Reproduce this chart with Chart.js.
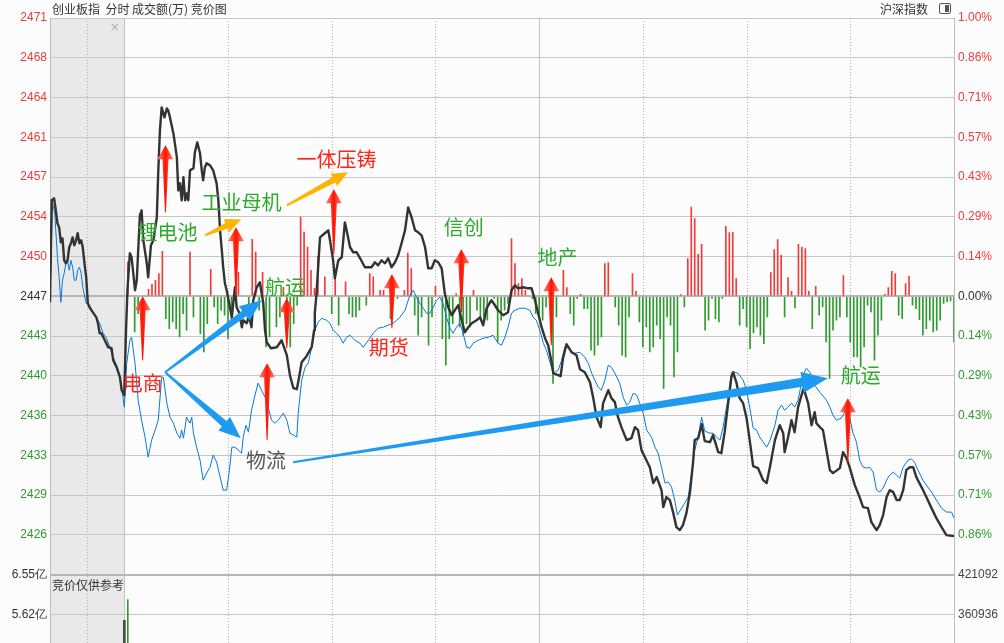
<!DOCTYPE html>
<html>
<head>
<meta charset="utf-8">
<script src="https://cdn.jsdelivr.net/npm/chart.js@4/dist/chart.umd.min.js"></script>
<style>
html, body { margin: 0; padding: 0; background: #fcfcfc; overflow: hidden; }
#wrap { position: relative; width: 1004px; height: 643px; overflow: hidden; }
#c { position: absolute; left: 0; top: 0; }
.hd { position: absolute; top: 1px; font: 12px "Noto Sans CJK SC", sans-serif; color: #333; line-height: 16px; white-space: pre; }
#icon { position: absolute; left: 939px; top: 3px; width: 10px; height: 9px; border: 1px solid #555; border-radius: 2px; }
#icon div { position: absolute; right: 1px; top: 1px; width: 4px; height: 7px; background: #555; }
</style>
</head>
<body>
<div id="wrap">
  <canvas id="c" width="1004" height="864"></canvas>
  <div class="hd" style="left:52px">创业板指  分时 成交额(万) 竞价图</div>
  <div class="hd" style="left:880px">沪深指数</div>
  <div id="icon"><div></div></div>
</div>
<script>
// ---- data ----
const prevClose = 2446.95;
const priceLabels = ['2471','2468','2464','2461','2457','2454','2450','2447','2443','2440','2436','2433','2429','2426',''];
const pctLabels = ['1.00%','0.86%','0.71%','0.57%','0.43%','0.29%','0.14%','0.00%','0.14%','0.29%','0.43%','0.57%','0.71%','0.86%',''];
const volMax = 6.55;
const volLeftLabels = ['6.55亿','5.62亿'];
const volRightLabels = ['421092','360936'];

// 9:15-9:25 call auction, minutes from 9:15
const auctionMin = [0,0.23,0.55,0.78,1.0,1.23,1.46,1.68,1.91,2.14,
  2.36,2.59,2.82,3.04,3.27,3.51,3.72,3.96,4.19,4.41,
  4.64,4.87,5.09,5.32,5.77,6.23,6.45,6.68,6.91,7.37,
  7.82,8.28,8.50,8.96,9.41,9.64,10];
const auctionPrice = [2446.42,2455.39,2455.56,2454.51,2453.37,2453.01,2451.70,2452.05,2450.11,2449.85,
  2450.11,2451.26,2451.61,2452.13,2451.43,2451.87,2452.49,2451.61,2451.87,2451.26,
  2449.85,2448.62,2446.33,2445.98,2445.54,2445.10,2444.58,2443.70,2443.70,2443.08,
  2442.47,2442.38,2441.33,2440.71,2439.83,2438.69,2438.25];
const auctionIdxMin = [0,0.31,0.64,1.0,1.23,1.46,1.68,1.91,2.14,2.36,
  2.59,2.82,3.04,3.27,3.51,3.72,3.96,4.19,4.41,4.87,
  5.32,5.77,6.23,6.68,7.14,7.60,8.05,8.50,8.96,9.41,9.64,10];
const auctionIdx = [2446.60,2455.21,2454.24,2450.38,2448.62,2446.42,2448.36,2448.97,2449.85,2450.11,
  2449.24,2450.11,2449.50,2448.36,2448.36,2449.24,2449.50,2448.97,2447.74,2446.33,
  2446.16,2445.54,2445.10,2444.58,2443.70,2443.26,2442.47,2441.59,2440.89,2439.83,2438.95,2437.20];

// trading session, minutes after 9:30 (0-240)
const priceMin = [0,0.5,0.9,1.6,2.1,3.1,3.6,4.5,5.0,5.5,
  6.5,6.9,7.7,8.4,9.4,9.8,10.3,10.8,11.6,12.3,
  12.7,13.2,14.2,15.2,15.6,16.1,16.6,17.1,17.6,18.0,
  18.5,19.0,20.0,20.4,21.1,21.9,22.4,22.8,23.3,23.8,
  24.8,25.7,26.7,27.2,27.7,28.2,28.6,29.1,29.6,31.1,
  31.5,32.0,32.5,33.3,34.0,34.4,35.4,35.9,36.3,36.8,
  37.3,38.3,39.2,40.2,40.7,41.2,42.4,44.1,45.5,46.0,
  47.0,47.9,48.9,49.9,50.5,51.3,52.7,54.2,54.9,55.1,
  55.6,56.6,58.0,59.0,59.5,60.4,60.9,61.9,62.9,63.8,
  64.3,65.3,66.2,67.2,68.2,69.6,71.5,72.5,73.4,74.4,
  75.4,76.3,77.3,78.3,79.2,80.2,81.2,82.1,83.1,84.1,
  85.0,86.0,87.0,87.9,88.9,89.8,90.8,91.8,92.7,93.7,
  94.7,95.6,96.6,97.6,98.5,99.5,100.5,101.9,102.9,103.8,
  104.8,106.2,107.2,108.1,109.6,111.0,112.0,113.0,113.9,115.4,
  116.8,117.8,118.8,119.7,120.7,121.7,122.6,123.6,124.1,125.5,
  126.2,126.9,127.9,129.4,130.8,131.8,133.2,134.7,135.6,136.6,
  137.8,138.5,140.0,140.9,141.9,142.8,143.8,145.3,146.7,147.7,
  148.6,149.6,150.6,152.0,153.0,154.0,155.4,155.9,156.8,157.8,
  158.8,159.7,160.7,161.6,162.6,163.6,164.5,165.0,166.0,167.0,
  167.9,169.4,170.3,171.8,172.7,173.7,174.7,175.6,176.1,177.1,
  178.0,179.0,180.0,180.9,181.9,183.3,184.8,185.8,186.7,188.2,
  189.6,190.6,191.0,192.0,193.0,193.9,194.9,195.9,196.5,197.8,
  198.8,199.7,200.2,201.2,202.1,203.1,204.1,205.0,207.0,207.9,
  208.9,209.8,211.3,212.7,213.7,215.1,216.1,217.6,218.5,219.5,
  220.5,221.4,222.4,223.4,224.3,225.3,226.2,227.2,228.2,229.1,
  230.6,232.0,233.5,234.9,236.4,237.8,240];
const priceVal = [2438.51,2443.96,2447.48,2450.73,2450.38,2447.48,2448.36,2454.07,2454.51,2451.87,
  2449.85,2448.62,2451.43,2451.87,2453.89,2457.76,2461.54,2463.56,2462.68,2463.47,
  2463.29,2462.68,2461.27,2459.16,2456.26,2456.88,2455.39,2457.41,2455.39,2456.00,
  2455.39,2458.02,2458.20,2459.60,2460.48,2459.52,2458.02,2457.14,2458.29,2458.64,
  2458.46,2458.02,2456.88,2455.39,2452.75,2450.99,2449.50,2448.09,2447.48,2445.10,
  2446.33,2447.74,2445.98,2445.46,2444.23,2444.84,2444.58,2445.10,2444.84,2444.23,
  2446.60,2447.74,2448.18,2446.33,2443.96,2442.91,2442.38,2442.47,2443.08,2442.64,
  2441.77,2440.01,2438.87,2438.78,2439.74,2441.15,2441.68,2442.47,2443.96,2445.46,
  2447.21,2452.13,2452.49,2452.75,2451.87,2450.11,2448.53,2450.11,2450.38,2453.45,
  2452.75,2451.26,2450.82,2450.82,2450.29,2449.50,2449.50,2449.94,2449.67,2450.11,
  2449.85,2450.29,2449.50,2449.94,2450.55,2451.61,2452.75,2454.77,2453.89,2452.75,
  2452.57,2452.31,2451.26,2449.41,2449.41,2450.11,2449.94,2449.41,2447.21,2445.98,
  2445.28,2445.72,2446.16,2444.84,2443.79,2444.23,2444.58,2444.84,2445.10,2444.40,
  2445.90,2446.60,2446.16,2445.72,2445.28,2445.54,2447.48,2447.92,2447.65,2447.74,
  2447.65,2447.65,2446.60,2445.46,2444.23,2443.26,2442.64,2441.15,2440.18,2440.01,
  2439.92,2441.50,2442.73,2442.03,2441.77,2440.54,2440.27,2439.39,2438.08,2436.32,
  2435.44,2437.55,2438.69,2437.99,2437.64,2436.32,2435.44,2434.30,2434.47,2435.44,
  2435.18,2433.42,2432.80,2431.92,2430.52,2431.05,2429.90,2428.41,2429.29,2429.03,
  2427.88,2426.65,2426.39,2426.83,2427.88,2429.64,2432.28,2434.30,2434.47,2435.70,
  2434.21,2434.12,2434.74,2433.24,2433.15,2435.09,2437.64,2439.83,2440.27,2439.31,
  2437.99,2437.55,2436.23,2434.30,2432.01,2431.84,2430.78,2430.52,2431.84,2434.30,
  2435.61,2434.91,2433.24,2434.56,2436.05,2435.00,2437.20,2438.25,2438.87,2437.55,
  2435.61,2436.76,2435.79,2435.44,2435.18,2433.42,2431.66,2431.40,2431.84,2433.24,
  2432.71,2431.92,2430.34,2429.29,2428.41,2428.32,2427.09,2426.39,2426.83,2427.71,
  2429.29,2429.90,2429.73,2429.03,2429.03,2429.90,2431.66,2431.92,2431.92,2431.05,
  2430.17,2429.29,2428.32,2427.44,2426.65,2425.95,2425.86];

// 沪深指数 overlay, scaled onto the same axis
const indexMin = [0,0.7,1.6,2.1,3.1,4.0,5.0,6.0,6.9,7.9,
  8.9,9.8,10.8,11.3,12.3,13.2,14.2,15.2,16.1,16.6,
  17.1,18.0,19.0,19.5,20.0,20.9,21.9,22.8,23.8,24.8,
  25.7,26.7,27.7,28.6,29.6,30.4,31.1,32.0,33.0,33.9,
  34.4,35.2,35.9,36.8,37.8,38.7,39.7,40.7,41.6,42.6,
  43.6,44.5,46.0,47.0,47.9,48.9,49.9,50.3,51.3,52.3,
  53.2,54.2,55.1,56.1,57.1,58.5,59.5,60.4,61.4,62.4,
  63.3,64.3,65.3,66.7,68.2,69.1,70.6,72.0,73.4,74.9,
  76.3,77.8,78.8,79.7,81.2,82.6,83.6,84.5,85.5,86.5,
  87.4,88.4,89.4,90.3,91.3,92.2,93.2,94.2,95.1,96.1,
  97.1,98.0,99.0,100.0,100.9,102.4,103.8,105.3,106.7,108.1,
  109.1,110.1,111.0,112.0,113.0,114.4,115.9,117.3,118.3,119.2,
  120.2,121.2,122.1,123.1,124.1,125.5,126.5,127.4,128.4,129.4,
  130.3,131.8,133.2,134.2,135.2,136.1,137.1,138.0,139.0,140.0,
  140.9,141.9,143.3,144.3,145.3,146.2,147.2,148.2,149.1,150.1,
  151.1,152.5,153.5,154.4,155.4,156.4,157.3,158.3,159.2,160.0,
  161.2,162.1,163.1,164.1,165.0,166.0,167.0,167.9,169.4,170.3,
  171.3,172.3,173.2,174.2,174.7,175.6,176.6,177.5,179.0,180.0,
  180.9,181.9,182.9,183.8,184.8,185.8,186.7,188.2,189.1,190.1,
  191.0,192.0,193.0,193.9,194.9,196.3,197.3,198.3,199.7,201.2,
  203.1,204.1,205.0,206.0,207.4,208.4,209.8,210.8,211.8,212.7,
  213.7,214.7,215.6,216.6,217.6,218.5,219.5,220.5,221.4,222.4,
  223.4,224.3,225.3,226.7,227.7,228.6,229.6,231.0,232.0,233.5,
  234.9,236.4,237.8,239.3,240];
const indexVal = [2437.20,2441.06,2443.08,2443.35,2441.06,2437.81,2436.05,2434.56,2432.80,2434.30,
  2435.18,2436.05,2439.83,2439.83,2437.55,2436.32,2435.79,2434.91,2434.47,2435.18,
  2434.47,2436.32,2435.79,2436.32,2434.91,2433.68,2432.54,2430.78,2431.40,2431.92,
  2432.98,2432.36,2431.05,2429.90,2429.90,2431.66,2433.68,2433.68,2433.42,2433.15,
  2434.56,2435.61,2435.00,2436.93,2438.25,2439.31,2438.69,2438.08,2437.20,2436.05,
  2435.79,2436.05,2436.67,2436.05,2434.91,2434.74,2434.56,2436.67,2439.57,2440.71,
  2441.06,2442.47,2443.96,2444.67,2445.02,2444.84,2444.58,2443.96,2443.70,2443.35,
  2442.82,2443.35,2443.52,2443.08,2442.82,2442.47,2443.08,2443.70,2444.14,2444.23,
  2444.40,2444.58,2444.84,2445.10,2445.72,2447.04,2447.48,2446.86,2446.33,2445.90,
  2445.46,2445.46,2445.98,2446.60,2446.86,2446.33,2445.10,2444.14,2443.70,2444.23,
  2444.58,2443.70,2442.47,2442.38,2442.82,2443.08,2443.26,2443.35,2443.52,2442.82,
  2442.64,2443.35,2444.23,2445.46,2445.72,2445.90,2445.90,2445.72,2445.10,2444.84,
  2443.96,2442.82,2442.21,2441.15,2440.18,2440.45,2441.33,2442.47,2442.47,2441.94,
  2441.94,2442.03,2441.59,2441.06,2440.18,2439.57,2438.95,2438.69,2439.57,2440.89,
  2440.71,2440.18,2439.31,2438.08,2437.37,2437.64,2438.43,2438.25,2437.55,2436.67,
  2435.18,2434.56,2433.68,2433.15,2431.92,2430.52,2430.61,2430.17,2429.03,2427.71,
  2428.32,2428.76,2429.29,2431.40,2433.42,2434.56,2436.32,2435.09,2434.91,2434.91,
  2434.56,2434.30,2435.44,2437.20,2438.08,2440.18,2440.27,2440.18,2439.57,2438.69,
  2437.20,2435.35,2435.18,2434.56,2434.12,2433.68,2434.21,2435.61,2436.93,2437.37,
  2436.93,2437.20,2437.55,2437.20,2437.81,2440.01,2440.62,2440.27,2439.13,2438.51,
  2437.81,2437.20,2436.49,2436.05,2436.23,2436.76,2436.32,2434.91,2434.12,2432.54,
  2431.92,2431.84,2431.92,2431.49,2429.90,2429.73,2430.08,2430.78,2431.22,2431.49,
  2431.22,2430.96,2431.92,2432.54,2432.63,2432.36,2431.66,2430.78,2430.34,2429.73,
  2429.03,2428.32,2427.97,2427.97,2427.44];

// red / green bars drawn from the previous close (index points)
const flowMin = [1,3,4,7,8,9,10,11,12,13, 14,15,16,17,18,19,20,22,23,24,
  25,26,27,28,29,30,31,33,36,37, 38,39,40,41,42,44,45,46,47,48,
  49,50,51,52,53,54,55,56,58,60, 61,62,64,65,66,67,68,70,71,72,
  74,75,77,78,79,81,82,83,84,85, 86,88,89,90,92,93,94,95,96,97,
  98,99,100,101,102,103,104,105,107,108, 109,110,111,112,113,114,115,116,118,119,
  120,121,122,124,125,127,128,129,130,131, 132,133,134,135,136,137,138,139,140,142,
  143,144,145,146,147,148,149,150,151,152, 153,154,155,156,157,158,159,160,161,162,
  163,164,165,166,167,168,169,170,171,172, 173,174,175,176,177,178,179,180,181,182,
  183,184,185,186,187,188,189,190,191,192, 193,194,195,196,197,198,199,200,201,202,
  203,204,205,206,207,208,209,210,211,212, 213,214,215,216,217,218,219,220,221,222,
  223,224,225,226,227,228,229,230,231,232, 233,234,235,236,237,238,239,240];
const flowVal = [3.01,-3.14,-1.52,0.62,1.05,1.41,1.99,3.95,-1.96,-2.84, -2.26,-2.84,-3.58,-1.52,-2.99,3.89,-1.82,-3.28,-4.89,-2.40,
  2.37,-0.94,-2.40,-1.23,-1.67,-3.72,-2.11,2.11,-0.79,5.01, 3.89,-1.23,2.11,-4.45,-3.58,-2.70,-1.82,0.79,-3.14,-4.45,
  -2.40,-0.79,6.97,5.65,4.33,2.28,0.70,3.51,1.70,-1.52, 2.28,-2.55,1.26,-1.52,-1.82,-1.82,-1.23,-0.79,1.99,1.70,
  0.53,0.53,-1.96,0.82,-0.20,0.53,3.80,2.43,-1.67,-3.43, -1.82,-4.31,-1.82,0.88,-3.72,-6.06,-3.72,-2.40,0.24,-2.70,
  -3.43,-2.40,-2.70,0.53,-1.23,-1.96,-1.82,-2.11,-0.20,-4.02, -2.11,-1.23,-0.64,5.07,2.87,1.12,1.56,0.53,-0.20,-1.52,
  -1.52,-2.11,-0.94,-7.67,-1.82,2.28,0.76,-1.52,-2.55,-0.20, 0.18,-1.08,-1.08,-4.74,-5.18,-4.31,-3.58,2.87,2.96,-0.94,
  -2.55,-5.18,-5.33,-1.82,1.99,0.44,-2.26,-4.45,-2.70,-4.89, -4.45,-2.55,-3.72,-8.11,-1.82,-2.55,-7.09,-4.89,0.15,-0.94,
  3.31,7.85,6.83,3.69,4.57,-2.99,-2.11,-0.20,-1.96,-2.26, -0.20,6.15,5.60,5.62,1.56,-2.55,-1.08,-2.70,-4.60,-3.22,
  -2.70,-3.43,-4.16,-1.82,2.08,4.10,4.98,3.60,-1.82,1.64, 0.44,-1.03,4.57,4.33,4.19,0.44,-2.84,0.88,-1.67,-0.94,
  -4.02,-7.23,-2.99,-2.11,-1.82,1.82,-1.82,-4.02,-5.33,-5.33, -6.21,-4.45,-0.79,-1.38,-5.62,-3.43,-2.11,0.18,0.76,2.20,
  1.99,-1.67,-1.96,1.12,1.76,-0.79,-1.08,-2.05,-3.43,-2.84, -2.11,-3.14,-2.99,-2.11,-0.64,-0.50,-0.41,-4.02];

// volume pane (亿): auction match and first minute
const volAuction = 5.47;
const volFirst = 5.96;

// hand-drawn notes on the picture (minute, index level)
const upArrowMin  = [5.3, 11.9, 32.3, 47.0, 41.3, 60.6, 77.4, 97.5, 123.5, 209.3];
const upArrowTip  = [2446.95, 2460.22, 2453.01, 2446.77, 2441.06, 2456.35, 2448.88, 2451.08, 2448.62, 2437.99];
const upArrowTail = [2441.33, 2454.33, 2446.95, 2442.38, 2434.30, 2450.64, 2444.14, 2445.54, 2442.64, 2432.36];

const noteText = ['电商','锂电池','工业母机','一体压铸','航运','期货','信创','地产','物流','航运'];
const noteMin  = [5.3, 12.5, 33.9, 61.4, 46.5, 76.5, 98.2, 125.3, 41.0, 213.0];
const noteLvl  = [2439.31, 2452.60, 2455.24, 2458.99, 2447.74, 2442.42, 2452.97, 2450.38, 2432.54, 2440.01];
const noteKind = ['red','green','green','red','green','red','green','green','gray','green'];

const linkFromMin = [11.8, 11.8, 48.8, 23.3, 47.0];
const linkFromLvl = [2440.27, 2440.27, 2432.36, 2452.31, 2454.95];
const linkToMin   = [39.8, 33.7, 203.5, 33.8, 64.7];
const linkToLvl   = [2446.60, 2434.47, 2439.74, 2453.72, 2457.85];
const linkKind    = ['blue','blue','blueLong','gold','gold'];

// ---- layout / style ----
const xMin = -21.5;             // auction block occupies [xMin, 0]
const toX = m => xMin + m * (-xMin / 10);
const RED = '#ee3b3b', GREEN = '#2f9a2f', DARK = '#333333';
const noteColors = { red: '#ff2418', green: '#2daa2d', gray: '#555555' };
const linkStyle = {
  blue:     { w0: 2, w1: 7,  hw: 18, hl: 22, color: '#1e9bf0' },
  blueLong: { w0: 2, w1: 9,  hw: 21, hl: 26, color: '#1e9bf0' },
  gold:     { w0: 2, w1: 6,  hw: 14, hl: 16, color: '#ffb400' }
};

const priceTicks = [];
for (let k = -7; k <= 7; k++) priceTicks.push(prevClose * (1 + k / 700));
const stepOf = v => Math.round((v / prevClose - 1) * 700);
const volTicks = [];
for (let j = 0; j <= 7; j++) volTicks.push(volMax * j / 7);
const volStep = v => Math.round(v / volMax * 7);
const lvlColor = v => { const k = stepOf(v); return k > 0 ? RED : (k < 0 ? GREEN : DARK); };

const blackData = auctionMin.map((m, i) => ({ x: toX(m), y: auctionPrice[i] }))
  .concat(priceMin.map((t, i) => ({ x: t, y: priceVal[i] })));
const blueData = auctionIdxMin.map((m, i) => ({ x: toX(m), y: auctionIdx[i] }))
  .concat(indexMin.map((t, i) => ({ x: t, y: indexVal[i] })));
const flowData = flowMin.map((t, i) => ({ x: t, y: prevClose + flowVal[i] }));

function taper(ctx, x0, y0, x1, y1, s, fill) {
  const len = Math.hypot(x1 - x0, y1 - y0);
  const ux = (x1 - x0) / len, uy = (y1 - y0) / len, nx = -uy, ny = ux;
  const bx = x1 - ux * s.hl, by = y1 - uy * s.hl;
  ctx.beginPath();
  ctx.moveTo(x0 + nx * s.w0 / 2, y0 + ny * s.w0 / 2);
  ctx.lineTo(bx + nx * s.w1 / 2, by + ny * s.w1 / 2);
  ctx.lineTo(bx + nx * s.hw / 2, by + ny * s.hw / 2);
  ctx.lineTo(x1, y1);
  ctx.lineTo(bx - nx * s.hw / 2, by - ny * s.hw / 2);
  ctx.lineTo(bx - nx * s.w1 / 2, by - ny * s.w1 / 2);
  ctx.lineTo(x0 - nx * s.w0 / 2, y0 - ny * s.w0 / 2);
  ctx.closePath();
  ctx.fillStyle = fill;
  ctx.fill();
}

const decor = {
  id: 'decor',
  beforeDraw(chart) {
    const { ctx, chartArea: a, scales: { x } } = chart;
    ctx.save();
    ctx.fillStyle = '#e9e9e9';
    ctx.fillRect(a.left, a.top, x.getPixelForValue(0) - a.left, a.bottom - a.top);
    const vlines = [xMin / 2, 0, 30, 60, 90, 120, 150, 180, 210];
    vlines.forEach(v => {
      const px = Math.round(x.getPixelForValue(v)) + 0.5;
      const solid = v === 0 || v === 120;
      ctx.beginPath();
      ctx.strokeStyle = solid ? '#c2c2c2' : '#b4b4b4';
      ctx.lineWidth = 1;
      ctx.setLineDash(solid ? [] : [1, 2]);
      ctx.moveTo(px, a.top);
      ctx.lineTo(px, a.bottom);
      ctx.stroke();
    });
    ctx.restore();
  },
  afterDatasetsDraw(chart) {
    const { ctx, chartArea: a, scales: { x, y, yv } } = chart;
    ctx.save();
    // up arrows
    upArrowMin.forEach((t, i) => {
      const px = x.getPixelForValue(t);
      const g = ctx.createLinearGradient(px - 8, 0, px + 8, 0);
      g.addColorStop(0, '#ff8a7a'); g.addColorStop(0.5, '#ff1200'); g.addColorStop(1, '#ff8a7a');
      taper(ctx, px, y.getPixelForValue(upArrowTail[i]), px, y.getPixelForValue(upArrowTip[i]),
        { w0: 1, w1: 6, hw: 16, hl: 14 }, g);
    });
    // link arrows
    linkFromMin.forEach((t, i) => {
      const s = linkStyle[linkKind[i]];
      taper(ctx, x.getPixelForValue(t), y.getPixelForValue(linkFromLvl[i]),
        x.getPixelForValue(linkToMin[i]), y.getPixelForValue(linkToLvl[i]), s, s.color);
    });
    // notes
    ctx.font = '20px "Noto Sans CJK SC", sans-serif';
    ctx.textAlign = 'center';
    ctx.textBaseline = 'middle';
    noteText.forEach((s, i) => {
      ctx.fillStyle = noteColors[noteKind[i]];
      ctx.fillText(s, x.getPixelForValue(noteMin[i]), y.getPixelForValue(noteLvl[i]));
    });
    // small pane texts
    ctx.font = '12px "Noto Sans CJK SC", sans-serif';
    ctx.textAlign = 'left';
    ctx.fillStyle = '#333';
    ctx.fillText('竞价仅供参考', a.left + 2, yv.getPixelForValue(volMax) + 11);
    ctx.font = '12px "DejaVu Sans", sans-serif';
    ctx.textAlign = 'center';
    ctx.fillStyle = '#aaa';
    ctx.fillText('×', x.getPixelForValue(0) - 9.5, a.top + 10);
    ctx.restore();
  }
};

const tickFont = { family: '"Liberation Sans", Arial, sans-serif', size: 12 };
const fixW = s => { s.width = 50; };

new Chart(document.getElementById('c'), {
  type: 'line',
  data: {
    datasets: [
      { type: 'line', data: blackData, borderColor: '#333333', borderWidth: 2.4, pointRadius: 0,
        tension: 0, borderJoinStyle: 'round', yAxisID: 'y', order: 0 },
      { type: 'line', data: blueData, borderColor: '#0a78d6', borderWidth: 1, pointRadius: 0,
        tension: 0, yAxisID: 'y', order: 1 },
      { type: 'bar', data: flowData, base: prevClose, barThickness: 1, grouped: false, yAxisID: 'y', order: 2,
        backgroundColor: c => (c.raw && c.raw.y >= prevClose ? '#f03c3c' : '#2f9a2f') },
      { type: 'bar', data: [{ x: 0, y: volAuction }], barThickness: 2, grouped: false, yAxisID: 'yv',
        backgroundColor: '#4a4a4a', order: 3 },
      { type: 'bar', data: [{ x: 1, y: volFirst }], barThickness: 1, grouped: false, yAxisID: 'yv',
        backgroundColor: '#2f9a2f', order: 3 }
    ]
  },
  options: {
    responsive: false,
    animation: false,
    devicePixelRatio: 1,
    layout: { padding: { top: 18, bottom: 10, left: 0, right: 0 } },
    plugins: { legend: { display: false }, tooltip: { enabled: false } },
    scales: {
      x: { type: 'linear', min: xMin, max: 240, offset: false, display: false },
      y: {
        type: 'linear', position: 'left', stack: 'L', stackWeight: 2, weight: 2,
        min: prevClose * 0.99, max: prevClose * 1.01,
        afterBuildTicks: s => { s.ticks = priceTicks.map(v => ({ value: v })); },
        afterFit: fixW,
        grid: {
          drawTicks: false,
          color: c => (stepOf(c.tick.value) === 0 || stepOf(c.tick.value) === -7 ? '#b6b6b6' : '#c6c6c6'),
          lineWidth: c => (stepOf(c.tick.value) === 0 || stepOf(c.tick.value) === -7 ? 2 : 1)
        },
        border: { display: true, color: '#bdbdbd' },
        ticks: { autoSkip: false, padding: 3, font: tickFont,
          color: c => lvlColor(c.tick.value),
          callback: v => priceLabels[7 - stepOf(v)] }
      },
      yv: {
        type: 'linear', position: 'left', stack: 'L', stackWeight: 1, weight: 1,
        min: 0, max: volMax,
        afterBuildTicks: s => { s.ticks = volTicks.map(v => ({ value: v })); },
        afterFit: fixW,
        grid: { drawTicks: false, color: c => (volStep(c.tick.value) === 7 ? '#b6b6b6' : '#c6c6c6'),
          lineWidth: c => (volStep(c.tick.value) === 7 ? 2 : 1) },
        border: { display: true, color: '#bdbdbd' },
        ticks: { autoSkip: false, padding: 3, font: tickFont, color: '#333',
          callback: v => volLeftLabels[7 - volStep(v)] || '' }
      },
      yr: {
        type: 'linear', position: 'right', stack: 'R', stackWeight: 2, weight: 1,
        min: prevClose * 0.99, max: prevClose * 1.01,
        afterBuildTicks: s => { s.ticks = priceTicks.map(v => ({ value: v })); },
        afterFit: fixW,
        grid: { display: false, drawTicks: false },
        border: { display: true, color: '#bdbdbd' },
        ticks: { autoSkip: false, padding: 4, font: tickFont,
          color: c => lvlColor(c.tick.value),
          callback: v => pctLabels[7 - stepOf(v)] }
      },
      yvr: {
        type: 'linear', position: 'right', stack: 'R', stackWeight: 1, weight: 2,
        min: 0, max: volMax,
        afterBuildTicks: s => { s.ticks = volTicks.map(v => ({ value: v })); },
        afterFit: fixW,
        grid: { display: false, drawTicks: false },
        border: { display: true, color: '#bdbdbd' },
        ticks: { autoSkip: false, padding: 4, font: tickFont, color: '#444',
          callback: v => volRightLabels[7 - volStep(v)] || '' }
      }
    }
  },
  plugins: [decor]
});
</script>
</body>
</html>
